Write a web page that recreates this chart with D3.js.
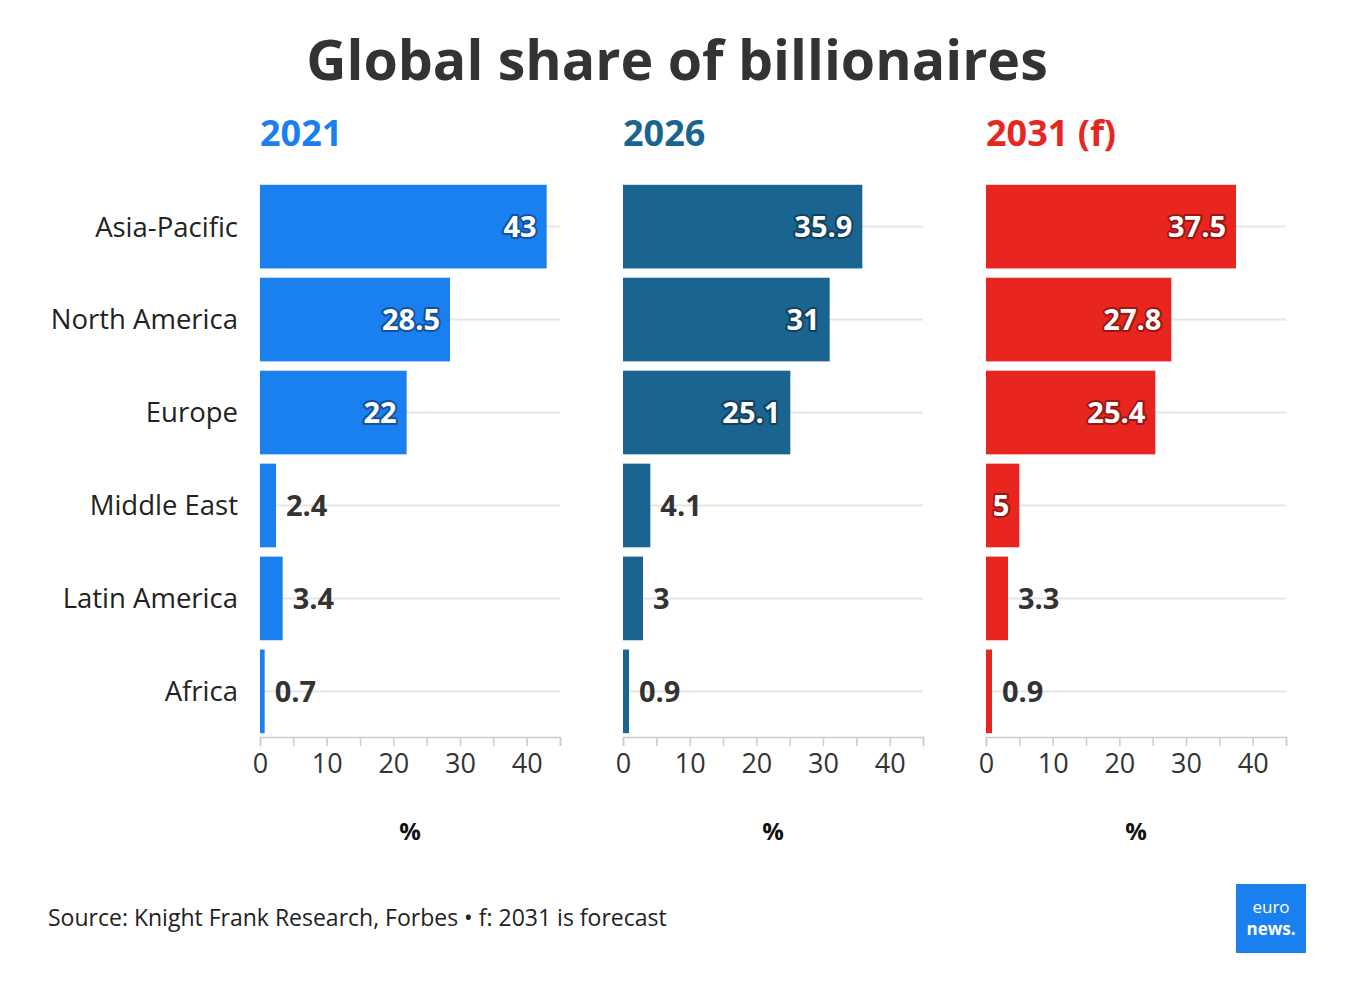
<!DOCTYPE html>
<html><head><meta charset="utf-8">
<script src="https://cdn.jsdelivr.net/npm/d3@7"></script>
<style>body{margin:0;background:#fff;font-family:"Open Sans",sans-serif}</style>
</head><body><svg id="c" width="1346" height="994"></svg>
<script>
const categories = ["Asia-Pacific","North America","Europe","Middle East","Latin America","Africa"];
const years = ["2021","2026","2031 (f)"];
const values2021 = [43,28.5,22,2.4,3.4,0.7];
const values2026 = [35.9,31,25.1,4.1,3,0.9];
const values2031 = [37.5,27.8,25.4,5,3.3,0.9];
const tickValues = [0,10,20,30,40];
const colors = ["#1a7fef","#1a6490","#e8251f"];
const series = [values2021, values2026, values2031];

const svg = d3.select("#c");
svg.append("text").attr("x",677).attr("y",80).attr("text-anchor","middle")
  .attr("font-size",55.5).attr("font-weight",700).attr("fill","#333").text("Global share of billionaires");

const y = d3.scaleBand().domain(categories).range([182,736]).paddingInner(0.1).paddingOuter(0.03);
const panelX = [260,623,986];
const W = 300;

panelX.forEach((px,i)=>{
  const x = d3.scaleLinear().domain([0,45]).range([px,px+W]);
  const g = svg.append("g");
  g.append("text").attr("x",px).attr("y",146).attr("font-size",36).attr("font-weight",700)
    .attr("fill",colors[i]).text(years[i]);
  categories.forEach(c=>{
    g.append("line").attr("x1",px).attr("x2",px+W).attr("y1",y(c)+y.bandwidth()/2).attr("y2",y(c)+y.bandwidth()/2)
      .attr("stroke","#e6e6e6").attr("stroke-width",2);
  });
  const data = categories.map((c,j)=>({c,v:series[i][j]}));
  g.selectAll("rect").data(data).join("rect")
    .attr("x",x(0)).attr("y",d=>y(d.c)).attr("height",y.bandwidth())
    .attr("width",d=>x(d.v)-x(0)).attr("fill",colors[i]);
  g.selectAll("text.v").data(data).join("text").attr("class","v")
    .attr("y",d=>y(d.c)+y.bandwidth()/2).attr("dy","0.36em")
    .attr("font-size",29).attr("font-weight",700)
    .each(function(d){
      const t=d3.select(this);
      if(d.v>=5){
        t.attr("x",x(d.v)-10).attr("text-anchor","end").attr("fill","#fff")
         .attr("stroke",d3.color(colors[i]).darker(1.2)).attr("stroke-width",4).attr("paint-order","stroke")
         .attr("stroke-linejoin","round");
      } else {
        t.attr("x",x(d.v)+10).attr("text-anchor","start").attr("fill","#333");
      }
    }).text(d=>d.v);
  const ax = g.append("g").attr("transform","translate(0,737)")
    .call(d3.axisBottom(x).tickValues(d3.range(0,46,5)).tickSize(9).tickFormat(d=>tickValues.includes(d)?d:""));
  ax.select(".domain").attr("stroke","#ccc").attr("stroke-width",1.5);
  ax.selectAll(".tick line").attr("stroke","#ccc").attr("stroke-width",1.5);
  ax.selectAll("text").attr("font-size",27).attr("fill","#333").attr("font-family","Open Sans").attr("dy","0.9em");
  g.append("text").attr("x",px+150).attr("y",840).attr("text-anchor","middle").attr("font-size",24)
    .attr("font-weight",700).attr("fill","#111").text("%");
});
svg.append("g").selectAll("text").data(categories).join("text")
  .attr("x",238).attr("y",d=>y(d)+y.bandwidth()/2).attr("dy","0.36em").attr("text-anchor","end")
  .attr("font-size",27.5).attr("fill","#222").text(d=>d);

svg.append("text").attr("x",48).attr("y",926).attr("font-size",23).attr("fill","#222")
  .text("Source: Knight Frank Research, Forbes • f: 2031 is forecast");
const lg = svg.append("g");
lg.append("rect").attr("x",1236).attr("y",884).attr("width",70).attr("height",69).attr("fill","#1a7fef");
lg.append("text").attr("x",1271).attr("y",913).attr("text-anchor","middle").attr("font-size",17).attr("fill","#fff").text("euro");
lg.append("text").attr("x",1271).attr("y",935).attr("text-anchor","middle").attr("font-size",17).attr("font-weight",700).attr("fill","#fff").text("news.");
</script></body></html>
